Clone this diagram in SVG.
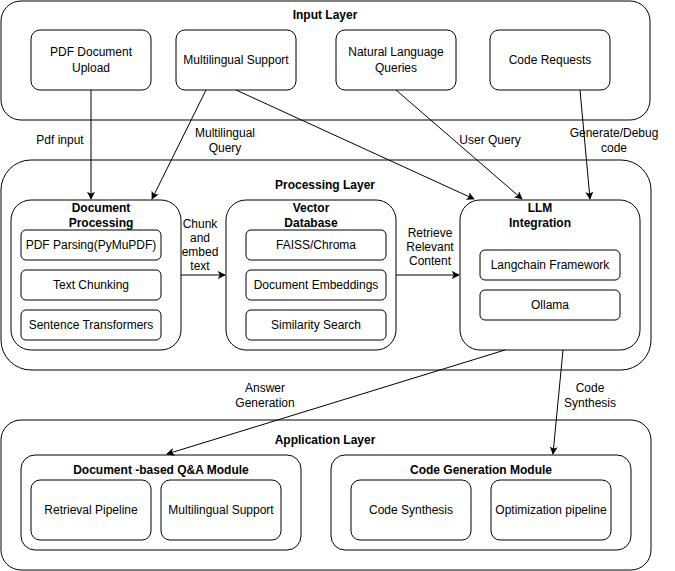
<svg xmlns="http://www.w3.org/2000/svg" width="675" height="571" viewBox="0 0 675 571">
<defs>
<style>
.box{fill:#fff;stroke:#000;stroke-width:1}
.t{font-family:"Liberation Sans",Arial,sans-serif;font-size:12px;fill:#000;text-anchor:middle}
.b{font-weight:bold}
.c{fill:none;stroke:#000;stroke-width:1}
</style>
<marker id="arr" viewBox="0 0 10 10" refX="9" refY="5" markerWidth="8" markerHeight="8" markerUnits="userSpaceOnUse" orient="auto">
<path d="M0,0 L10,5 L0,10 L2.5,5 Z" fill="#000"/>
</marker>
</defs>
<rect width="675" height="571" fill="#fff"/>

<g id="input-layer">
<rect class="box" x="1" y="1" width="649" height="119" rx="20"/>
<text class="t b" x="325" y="19">Input Layer</text>
</g>
<g id="pdf-upload">
<rect class="box" x="31" y="30" width="120" height="60" rx="9"/>
<text class="t" x="91" y="56">PDF Document</text>
<text class="t" x="91" y="72">Upload</text>
</g>
<g id="multilingual-in">
<rect class="box" x="176" y="30" width="120" height="60" rx="9"/>
<text class="t" x="236" y="64">Multilingual Support</text>
</g>
<g id="nl-queries">
<rect class="box" x="336" y="30" width="120" height="60" rx="9"/>
<text class="t" x="396" y="56">Natural Language</text>
<text class="t" x="396" y="72">Queries</text>
</g>
<g id="code-requests">
<rect class="box" x="490" y="30" width="120" height="60" rx="9"/>
<text class="t" x="550" y="64">Code Requests</text>
</g>

<g id="processing-layer">
<rect class="box" x="1" y="160" width="650" height="210" rx="30"/>
<text class="t b" x="325" y="189">Processing Layer</text>
</g>
<g id="doc-processing">
<rect class="box" x="11" y="200" width="170" height="150" rx="20"/>
<text class="t b" x="101" y="212">Document</text>
<text class="t b" x="101" y="227">Processing</text>
<rect class="box" x="21" y="230" width="140" height="30" rx="5"/>
<text class="t" x="91" y="249">PDF Parsing(PyMuPDF)</text>
<rect class="box" x="21" y="270" width="140" height="30" rx="5"/>
<text class="t" x="91" y="289">Text Chunking</text>
<rect class="box" x="21" y="310" width="140" height="30" rx="5"/>
<text class="t" x="91" y="329">Sentence Transformers</text>
</g>
<g id="vector-db">
<rect class="box" x="226" y="200" width="170" height="150" rx="20"/>
<text class="t b" x="311" y="212">Vector</text>
<text class="t b" x="311" y="227">Database</text>
<rect class="box" x="246" y="230" width="140" height="30" rx="5"/>
<text class="t" x="316" y="249">FAISS/Chroma</text>
<rect class="box" x="246" y="270" width="140" height="30" rx="5"/>
<text class="t" x="316" y="289">Document Embeddings</text>
<rect class="box" x="246" y="310" width="140" height="30" rx="5"/>
<text class="t" x="316" y="329">Similarity Search</text>
</g>
<g id="llm">
<rect class="box" x="460" y="200" width="180" height="150" rx="20"/>
<text class="t b" x="540" y="212">LLM</text>
<text class="t b" x="540" y="227">Integration</text>
<rect class="box" x="480" y="250" width="140" height="30" rx="5"/>
<text class="t" x="550" y="269">Langchain Framework</text>
<rect class="box" x="480" y="290" width="140" height="30" rx="5"/>
<text class="t" x="550" y="309">Ollama</text>
</g>

<g id="application-layer">
<rect class="box" x="1" y="420" width="650" height="150" rx="20"/>
<text class="t b" x="325" y="444">Application Layer</text>
</g>
<g id="qa-module">
<rect class="box" x="21" y="455" width="280" height="95" rx="14"/>
<text class="t b" x="161" y="474">Document -based Q&amp;A Module</text>
<rect class="box" x="31" y="480" width="120" height="60" rx="9"/>
<text class="t" x="91" y="514">Retrieval Pipeline</text>
<rect class="box" x="161" y="480" width="120" height="60" rx="9"/>
<text class="t" x="221" y="514">Multilingual Support</text>
</g>
<g id="codegen-module">
<rect class="box" x="331" y="455" width="300" height="95" rx="14"/>
<text class="t b" x="481" y="474">Code Generation Module</text>
<rect class="box" x="351" y="480" width="120" height="60" rx="9"/>
<text class="t" x="411" y="514">Code Synthesis</text>
<rect class="box" x="491" y="480" width="120" height="60" rx="9"/>
<text class="t" x="551" y="514">Optimization pipeline</text>
</g>

<g id="connectors">
<line class="c" x1="91" y1="90" x2="91" y2="199" marker-end="url(#arr)"/>
<line class="c" x1="206" y1="90" x2="152" y2="199" marker-end="url(#arr)"/>
<line class="c" x1="236" y1="90" x2="474" y2="199" marker-end="url(#arr)"/>
<line class="c" x1="396" y1="90" x2="522" y2="199" marker-end="url(#arr)"/>
<line class="c" x1="580" y1="90" x2="590" y2="199" marker-end="url(#arr)"/>
<line class="c" x1="181" y1="275" x2="225" y2="275" marker-end="url(#arr)"/>
<line class="c" x1="396" y1="275" x2="459" y2="275" marker-end="url(#arr)"/>
<line class="c" x1="505" y1="350" x2="167" y2="454" marker-end="url(#arr)"/>
<line class="c" x1="563" y1="350" x2="553" y2="454" marker-end="url(#arr)"/>
<text class="t" x="60" y="144">Pdf input</text>
<text class="t" x="225" y="137">Multilingual</text>
<text class="t" x="225" y="152">Query</text>
<text class="t" x="490" y="144">User Query</text>
<text class="t" x="614" y="137">Generate/Debug</text>
<text class="t" x="614" y="152">code</text>
<text class="t" x="200" y="228">Chunk</text>
<text class="t" x="200" y="242">and</text>
<text class="t" x="200" y="256">embed</text>
<text class="t" x="200" y="270">text</text>
<text class="t" x="430" y="237">Retrieve</text>
<text class="t" x="430" y="251">Relevant</text>
<text class="t" x="430" y="265">Content</text>
<text class="t" x="265" y="392">Answer</text>
<text class="t" x="265" y="407">Generation</text>
<text class="t" x="590" y="392">Code</text>
<text class="t" x="590" y="407">Synthesis</text>
</g>
</svg>
